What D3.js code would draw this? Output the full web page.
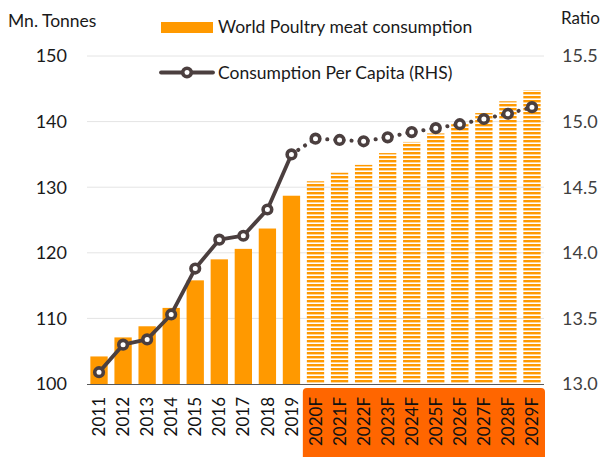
<!DOCTYPE html>
<html>
<head>
<meta charset="utf-8">
<script src="https://cdn.jsdelivr.net/npm/d3@7"></script>
<style>
  body { margin: 0; background: #fff; }
  text { font-family: Lato, "Open Sans", sans-serif; }
</style>
</head>
<body>
<div id="chart"></div>
<script>
// data
const years = ["2011", "2012", "2013", "2014", "2015", "2016", "2017", "2018", "2019",
    "2020F", "2021F", "2022F", "2023F", "2024F", "2025F", "2026F", "2027F", "2028F", "2029F"];
const consumption = [104.2, 107.1, 108.8, 111.6, 115.8, 119.0, 120.6, 123.7, 128.7,
    130.9, 132.2, 133.4, 135.2, 136.9, 138.2, 139.6, 141.3, 143.1, 144.8];
const perCapita = [13.09, 13.30, 13.34, 13.53, 13.88, 14.10, 14.13, 14.33, 14.75,
    14.87, 14.86, 14.85, 14.88, 14.92, 14.95, 14.98, 15.02, 15.06, 15.11];
const leftTicks = [100, 110, 120, 130, 140, 150];
const rightTicks = [13.0, 13.5, 14.0, 14.5, 15.0, 15.5];
const lastActual = 8; // index of 2019

const W = 603, H = 457;
const plot = {left: 87, right: 544, top: 56, bottom: 384};

const svg = d3.select("#chart").append("svg")
    .attr("width", W)
    .attr("height", H);

// stripe pattern for forecast bars
const defs = svg.append("defs");
const pat = defs.append("pattern")
    .attr("id", "stripes")
    .attr("patternUnits", "userSpaceOnUse")
    .attr("width", 10)
    .attr("height", 4);
pat.append("rect")
    .attr("x", 0).attr("y", 0)
    .attr("width", 10).attr("height", 2.4)
    .attr("fill", "#ff9900");

const x = d3.scaleBand()
    .domain(years)
    .range([plot.left, plot.right])
    .paddingInner(0.28)
    .paddingOuter(0.14);

const yL = d3.scaleLinear().domain([100, 150]).range([plot.bottom, plot.top]);
const yR = d3.scaleLinear().domain([13.0, 15.5]).range([plot.bottom, plot.top]);

// gridlines
svg.append("g")
    .selectAll("line")
    .data(leftTicks.slice(1))
    .enter()
    .append("line")
    .attr("x1", plot.left)
    .attr("x2", plot.right)
    .attr("y1", d => yL(d))
    .attr("y2", d => yL(d))
    .attr("stroke", "#e4e4e4")
    .attr("stroke-width", 1);

// orange box behind forecast labels
const fx0 = x(years[lastActual + 1]) - 4;
svg.append("rect")
    .attr("x", fx0)
    .attr("y", 388)
    .attr("width", plot.right + 1 - fx0)
    .attr("height", 80)
    .attr("rx", 4)
    .attr("fill", "#ff6600");

// bars
svg.append("g")
    .selectAll("rect")
    .data(consumption)
    .enter()
    .append("rect")
    .attr("x", (d, i) => x(years[i]))
    .attr("y", d => yL(d))
    .attr("width", x.bandwidth())
    .attr("height", d => yL(100) - yL(d))
    .attr("fill", (d, i) => i <= lastActual ? "#ff9900" : "url(#stripes)");

// baseline
svg.append("line")
    .attr("x1", plot.left)
    .attr("x2", plot.right)
    .attr("y1", plot.bottom + 0.5)
    .attr("y2", plot.bottom + 0.5)
    .attr("stroke", "#595959")
    .attr("stroke-width", 1.2);

// left axis labels
svg.append("g")
    .selectAll("text")
    .data(leftTicks)
    .enter()
    .append("text")
    .attr("x", 67)
    .attr("y", d => yL(d))
    .attr("dy", "0.36em")
    .attr("text-anchor", "end")
    .attr("font-size", 18)
    .attr("fill", "#1a1a1a")
    .text(d => d);

// right axis labels
svg.append("g")
    .selectAll("text")
    .data(rightTicks)
    .enter()
    .append("text")
    .attr("x", 562)
    .attr("y", d => yR(d))
    .attr("dy", "0.36em")
    .attr("text-anchor", "start")
    .attr("font-size", 18)
    .attr("fill", "#404040")
    .text(d => d.toFixed(1));

// x labels
svg.append("g")
    .selectAll("text")
    .data(years)
    .enter()
    .append("text")
    .attr("transform", d => `translate(${x(d) + x.bandwidth() / 2},397) rotate(-90)`)
    .attr("dy", "0.36em")
    .attr("text-anchor", "end")
    .attr("font-size", 17)
    .attr("fill", "#111")
    .text(d => d);

// axis titles
svg.append("text")
    .attr("x", 8).attr("y", 27)
    .attr("font-size", 17.5)
    .attr("fill", "#1a1a1a")
    .text("Mn. Tonnes");
svg.append("text")
    .attr("x", 561).attr("y", 24)
    .attr("font-size", 17)
    .attr("fill", "#1a1a1a")
    .text("Ratio");

// per capita line
const cx = (d, i) => x(years[i]) + x.bandwidth() / 2;
const line = d3.line()
    .x(d => d.x)
    .y(d => d.y);
const pts = perCapita.map((d, i) => ({x: cx(d, i), y: yR(d)}));
const lineColor = "#4b3f3f";

svg.append("path")
    .datum(pts.slice(0, lastActual + 1))
    .attr("d", line)
    .attr("fill", "none")
    .attr("stroke", lineColor)
    .attr("stroke-width", 3.8)
    .attr("stroke-linejoin", "round");

svg.append("path")
    .datum(pts.slice(lastActual))
    .attr("d", line)
    .attr("fill", "none")
    .attr("stroke", lineColor)
    .attr("stroke-width", 4)
    .attr("stroke-linecap", "round")
    .attr("stroke-dasharray", "0.1,8");

svg.append("g")
    .selectAll("circle")
    .data(pts)
    .enter()
    .append("circle")
    .attr("cx", d => d.x)
    .attr("cy", d => d.y)
    .attr("r", 4.3)
    .attr("fill", "#fff")
    .attr("stroke", lineColor)
    .attr("stroke-width", 3.6);

// legend
const leg = svg.append("g");
leg.append("rect")
    .attr("x", 161).attr("y", 22)
    .attr("width", 52).attr("height", 11)
    .attr("fill", "#ff9900");
leg.append("text")
    .attr("x", 218).attr("y", 33)
    .attr("font-size", 17.5)
    .attr("fill", "#1a1a1a")
    .text("World Poultry meat consumption");
leg.append("line")
    .attr("x1", 161).attr("x2", 213)
    .attr("y1", 72.5).attr("y2", 72.5)
    .attr("stroke", lineColor)
    .attr("stroke-width", 3.8)
    .attr("stroke-linecap", "round");
leg.append("circle")
    .attr("cx", 187).attr("cy", 72.5)
    .attr("r", 4.3)
    .attr("fill", "#fff")
    .attr("stroke", lineColor)
    .attr("stroke-width", 3.6);
leg.append("text")
    .attr("x", 218).attr("y", 79)
    .attr("font-size", 17.5)
    .attr("fill", "#1a1a1a")
    .text("Consumption Per Capita (RHS)");
</script>
</body>
</html>
